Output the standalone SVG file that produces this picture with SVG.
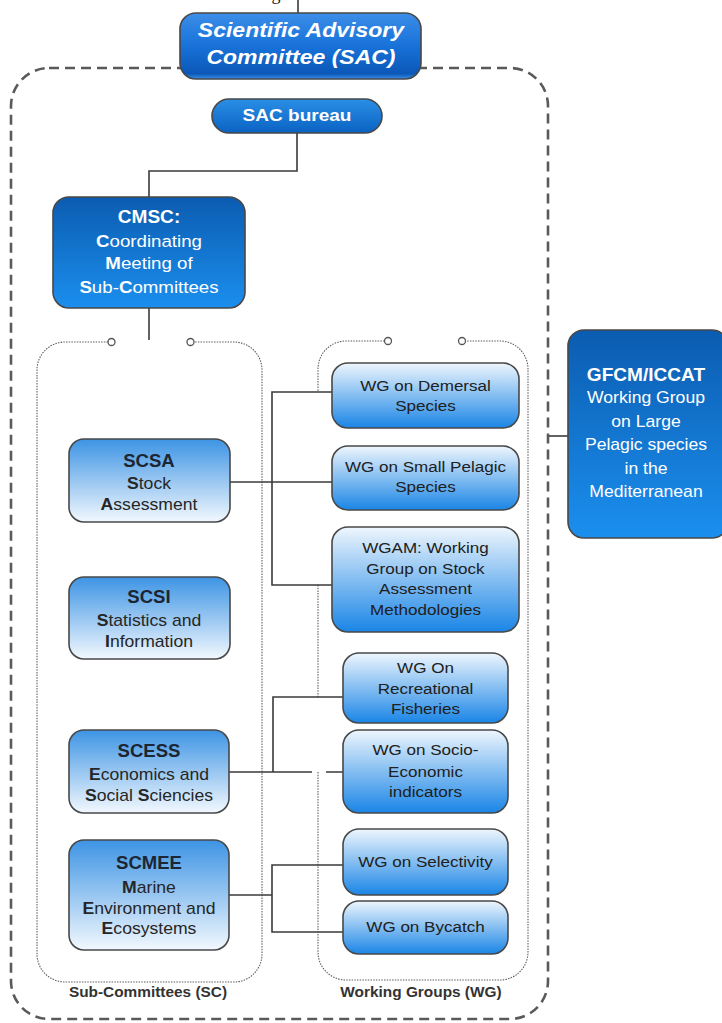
<svg xmlns="http://www.w3.org/2000/svg" width="722" height="1023" viewBox="0 0 722 1023">
<defs>
<linearGradient id="gSac" x1="0" y1="0" x2="0" y2="1">
<stop offset="0" stop-color="#3c8ee8"/><stop offset="0.5" stop-color="#1872d9"/><stop offset="0.92" stop-color="#0b58b8"/><stop offset="1" stop-color="#3a8fe6"/>
</linearGradient>
<linearGradient id="gBureau" x1="0" y1="0" x2="0" y2="1">
<stop offset="0" stop-color="#2a8fe6"/><stop offset="1" stop-color="#0a62c2"/>
</linearGradient>
<linearGradient id="gDark" x1="0" y1="0" x2="0" y2="1">
<stop offset="0" stop-color="#0b5cb0"/><stop offset="1" stop-color="#1b8fee"/>
</linearGradient>
<linearGradient id="gSc" x1="0" y1="0" x2="0" y2="1">
<stop offset="0" stop-color="#3d94e4"/><stop offset="1" stop-color="#f2f8fe"/>
</linearGradient>
<linearGradient id="gWg" x1="0" y1="0" x2="0" y2="1">
<stop offset="0" stop-color="#eef6fd"/><stop offset="1" stop-color="#1a85e6"/>
</linearGradient>
</defs>
<style>
.box{stroke:#484848;stroke-width:1.6}
.conn{fill:none;stroke:#3a3a3a;stroke-width:1.6}
.dot{fill:none;stroke:#5e5e5e;stroke-width:1.1;stroke-dasharray:1.5 1.2}
.pin{fill:#ffffff;stroke:#555555;stroke-width:1.3}
.outer{fill:none;stroke:#5a5a5a;stroke-width:2.6;stroke-dasharray:10 6}
text{font-family:"Liberation Sans",Arial,sans-serif;text-anchor:middle;transform-box:fill-box;transform-origin:center}
.sac{font-size:20px;font-weight:bold;font-style:italic;fill:#ffffff;transform:scaleX(1.15)}
.wh{fill:#ffffff;font-size:17px;transform:scaleX(1.1)}
.whb{fill:#ffffff;font-size:18px;font-weight:bold;transform:scaleX(1.06)}
.bur{fill:#ffffff;font-size:17px;font-weight:bold;transform:scaleX(1.12)}
.hd{fill:#1c2633;font-size:17.5px;font-weight:bold;transform:scaleX(1.06)}
.bd{fill:#262626;font-size:16px;transform:scaleX(1.1)}
.wg{fill:#202020;font-size:15.5px;transform:scaleX(1.1)}
.gf{fill:#ffffff;font-size:16px;transform:scaleX(1.1)}
.lbl{fill:#333333;font-size:14px;font-weight:bold;transform:scaleX(1.1)}
.b{font-weight:bold}
</style>
<rect width="722" height="1023" fill="#ffffff"/>
<text x="276" y="0" style="font-family:'Liberation Serif',serif;font-size:18px;fill:#222">g</text>

<g id="outer-boundary">
<rect class="outer" x="11" y="68" width="537" height="951" rx="38" ry="38"/>
</g>

<g id="sc-container">
<path class="dot" d="M108,342 H65 A28,28 0 0 0 37,370 V954 A28,28 0 0 0 65,982 H234 A28,28 0 0 0 262,954 V370 A28,28 0 0 0 234,342 H194"/>
<circle class="pin" cx="111.5" cy="342" r="3.5"/>
<circle class="pin" cx="190.5" cy="342" r="3.5"/>
<text class="lbl" x="148" y="997">Sub-Committees (SC)</text>
</g>

<g id="wg-container">
<path class="dot" d="M384.5,341 H346 A28,28 0 0 0 318,369 V392 M318,585 V697 M318,772 V952 A28,28 0 0 0 346,980 H500 A28,28 0 0 0 528,952 V369 A28,28 0 0 0 500,341 H465.5"/>
<circle class="pin" cx="388" cy="341" r="3.5"/>
<circle class="pin" cx="462" cy="341" r="3.5"/>
<text class="lbl" x="421" y="997">Working Groups (WG)</text>
</g>

<g id="connectors">
<path class="conn" d="M298,0 V13"/>
<path class="conn" d="M297,133 V171 H149 V197"/>
<path class="conn" d="M149,308 V340"/>
<path class="conn" d="M230,482 H332"/>
<path class="conn" d="M332,392 H272 V585 H332"/>
<path class="conn" d="M229,772 H312 M326,772 H343"/>
<path class="conn" d="M273,772 V697 H343"/>
<path class="conn" d="M229,895 H272"/>
<path class="conn" d="M343,865 H272 V932 H343"/>
<path class="conn" d="M549,436 H568"/>
</g>

<g id="sac">
<rect class="box" x="180" y="13" width="241" height="66" rx="16" fill="url(#gSac)"/>
<text class="sac" x="301" y="37">Scientific Advisory</text>
<text class="sac" x="301" y="64">Committee (SAC)</text>
</g>

<g id="sac-bureau">
<rect class="box" x="212" y="99" width="170" height="34" rx="17" fill="url(#gBureau)"/>
<text class="bur" x="297" y="121">SAC bureau</text>
</g>

<g id="cmsc">
<rect class="box" x="53" y="197" width="192" height="111" rx="16" fill="url(#gDark)"/>
<text class="whb" x="149" y="223">CMSC:</text>
<text class="wh" x="149" y="247"><tspan class="b">C</tspan>oordinating</text>
<text class="wh" x="149" y="269"><tspan class="b">M</tspan>eeting of</text>
<text class="wh" x="149" y="293"><tspan class="b">S</tspan>ub-<tspan class="b">C</tspan>ommittees</text>
</g>

<g id="gfcm-iccat">
<rect class="box" x="568" y="330" width="160" height="208" rx="16" fill="url(#gDark)"/>
<text class="whb" x="646" y="381">GFCM/ICCAT</text>
<text class="gf" x="646" y="403">Working Group</text>
<text class="gf" x="646" y="427">on Large</text>
<text class="gf" x="646" y="450">Pelagic species</text>
<text class="gf" x="646" y="474">in the</text>
<text class="gf" x="646" y="497">Mediterranean</text>
</g>

<g id="scsa">
<rect class="box" x="69" y="439" width="161" height="83" rx="15" fill="url(#gSc)"/>
<text class="hd" x="149" y="467">SCSA</text>
<text class="bd" x="149" y="489"><tspan class="b">S</tspan>tock</text>
<text class="bd" x="149" y="510"><tspan class="b">A</tspan>ssessment</text>
</g>

<g id="scsi">
<rect class="box" x="69" y="577" width="161" height="82" rx="15" fill="url(#gSc)"/>
<text class="hd" x="149" y="603">SCSI</text>
<text class="bd" x="149" y="626"><tspan class="b">S</tspan>tatistics and</text>
<text class="bd" x="149" y="647"><tspan class="b">I</tspan>nformation</text>
</g>

<g id="scess">
<rect class="box" x="69" y="730" width="160" height="83" rx="15" fill="url(#gSc)"/>
<text class="hd" x="149" y="757">SCESS</text>
<text class="bd" x="149" y="780"><tspan class="b">E</tspan>conomics and</text>
<text class="bd" x="149" y="801"><tspan class="b">S</tspan>ocial <tspan class="b">S</tspan>ciencies</text>
</g>

<g id="scmee">
<rect class="box" x="69" y="840" width="160" height="110" rx="15" fill="url(#gSc)"/>
<text class="hd" x="149" y="869">SCMEE</text>
<text class="bd" x="149" y="893"><tspan class="b">M</tspan>arine</text>
<text class="bd" x="149" y="914"><tspan class="b">E</tspan>nvironment and</text>
<text class="bd" x="149" y="934"><tspan class="b">E</tspan>cosystems</text>
</g>

<g id="wg-demersal">
<rect class="box" x="332" y="363" width="187" height="65" rx="16" fill="url(#gWg)"/>
<text class="wg" x="425.5" y="391">WG on Demersal</text>
<text class="wg" x="425.5" y="411">Species</text>
</g>

<g id="wg-small-pelagic">
<rect class="box" x="332" y="446" width="187" height="64" rx="16" fill="url(#gWg)"/>
<text class="wg" x="425.5" y="472">WG on Small Pelagic</text>
<text class="wg" x="425.5" y="492">Species</text>
</g>

<g id="wgam">
<rect class="box" x="332" y="527" width="187" height="105" rx="16" fill="url(#gWg)"/>
<text class="wg" x="425.5" y="553">WGAM: Working</text>
<text class="wg" x="425.5" y="574">Group on Stock</text>
<text class="wg" x="425.5" y="594">Assessment</text>
<text class="wg" x="425.5" y="615">Methodologies</text>
</g>

<g id="wg-recreational">
<rect class="box" x="343" y="653" width="165" height="70" rx="16" fill="url(#gWg)"/>
<text class="wg" x="425.5" y="673">WG On</text>
<text class="wg" x="425.5" y="694">Recreational</text>
<text class="wg" x="425.5" y="714">Fisheries</text>
</g>

<g id="wg-socio-economic">
<rect class="box" x="343" y="730" width="165" height="83" rx="16" fill="url(#gWg)"/>
<text class="wg" x="425.5" y="755">WG on Socio-</text>
<text class="wg" x="425.5" y="777">Economic</text>
<text class="wg" x="425.5" y="797">indicators</text>
</g>

<g id="wg-selectivity">
<rect class="box" x="343" y="829" width="165" height="66" rx="16" fill="url(#gWg)"/>
<text class="wg" x="425.5" y="867">WG on Selectivity</text>
</g>

<g id="wg-bycatch">
<rect class="box" x="343" y="901" width="165" height="53" rx="16" fill="url(#gWg)"/>
<text class="wg" x="425.5" y="932">WG on Bycatch</text>
</g>
</svg>
